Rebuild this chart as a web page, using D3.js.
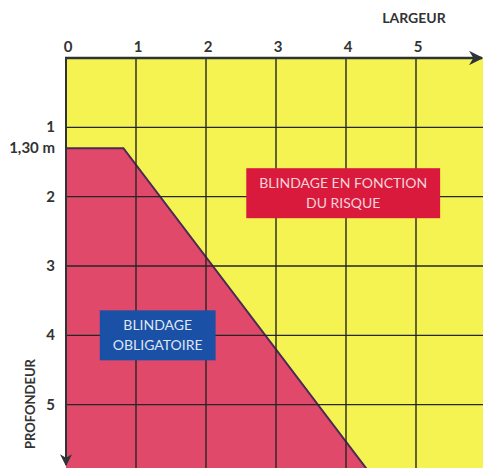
<!DOCTYPE html>
<html>
<head>
<meta charset="utf-8">
<script src="https://cdn.jsdelivr.net/npm/d3@7"></script>
<style>
  body { margin: 0; background: #fff; }
  svg { display: block; font-family: Lato, "Open Sans", sans-serif; }
</style>
</head>
<body>
<div id="chart"></div>
<script>
// largeur (m) along the top, profondeur (m) going down
var largeurTicks = [0, 1, 2, 3, 4, 5];
var profondeurTicks = [1, 2, 3, 4, 5];
var profondeurLabels = ["1", "2", "3", "4", "5"];
var seuilProfondeur = 1.30;
var seuilLabel = "1,30 m";

// limit of the mandatory zone: [largeur, profondeur]
var limiteBlindage = [[0, 1.30], [0.82, 1.30], [4.35, 6.0]];

var zoneLabels = [
    { lines: ["BLINDAGE EN FONCTION", "DU RISQUE"], x: 3.96, y: 1.95, fill: "#d91a3c", color: "#f6d3d8" },
    { lines: ["BLINDAGE", "OBLIGATOIRE"], x: 1.31, y: 4.0, fill: "#1a50a6", color: "#dfe6f5" }
];

var width = 483, height = 468;

var svg = d3.select("#chart")
    .append("svg")
    .attr("width", width)
    .attr("height", height);

var x = d3.scaleLinear().domain([0, 6]).range([66, 486]);
var y = d3.scaleLinear().domain([0, 6]).range([58, 474]);

var line = d3.line()
    .x(function (d) { return x(d[0]); })
    .y(function (d) { return y(d[1]); });

// yellow background (whole plot)
svg.append("rect")
    .attr("x", x(0))
    .attr("y", y(0))
    .attr("width", width - x(0))
    .attr("height", height - y(0))
    .attr("fill", "#f4f352");

// red zone
svg.append("path")
    .attr("d", line(limiteBlindage.concat([[0, 6]])) + "Z")
    .attr("fill", "#e0496a");

svg.append("path")
    .attr("d", line(limiteBlindage))
    .attr("fill", "none")
    .attr("stroke", "#4b2a55")
    .attr("stroke-width", 2);

// grid
svg.append("g")
    .selectAll("line")
    .data(largeurTicks.filter(function (d) { return d > 0; }))
    .enter()
    .append("line")
    .attr("x1", function (d) { return x(d); })
    .attr("x2", function (d) { return x(d); })
    .attr("y1", y(0))
    .attr("y2", height)
    .attr("stroke", "#262626")
    .attr("stroke-width", 1.4);

svg.append("g")
    .selectAll("line")
    .data(profondeurTicks)
    .enter()
    .append("line")
    .attr("x1", x(0))
    .attr("x2", width)
    .attr("y1", function (d) { return y(d); })
    .attr("y2", function (d) { return y(d); })
    .attr("stroke", "#262626")
    .attr("stroke-width", 1.4);

// axes with arrows
svg.append("defs")
    .append("marker")
    .attr("id", "arrow")
    .attr("viewBox", "0 0 10 10")
    .attr("refX", 9)
    .attr("refY", 5)
    .attr("markerWidth", 6)
    .attr("markerHeight", 6)
    .attr("markerUnits", "strokeWidth")
    .attr("orient", "auto")
    .append("path")
    .attr("d", "M0,0 L10,5 L0,10 L3,5 Z")
    .attr("fill", "#2e3436");

svg.append("line")
    .attr("x1", x(0) - 1)
    .attr("x2", width - 1)
    .attr("y1", y(0))
    .attr("y2", y(0))
    .attr("stroke", "#2e3436")
    .attr("stroke-width", 2.4)
    .attr("marker-end", "url(#arrow)");

svg.append("line")
    .attr("x1", x(0))
    .attr("x2", x(0))
    .attr("y1", y(0))
    .attr("y2", height - 3)
    .attr("stroke", "#2e3436")
    .attr("stroke-width", 2)
    .attr("marker-end", "url(#arrow)");

// tick labels
svg.append("g")
    .selectAll("text")
    .data(largeurTicks)
    .enter()
    .append("text")
    .attr("x", function (d) { return x(d) + 2; })
    .attr("y", y(0) - 6)
    .attr("text-anchor", "middle")
    .attr("font-size", 15)
    .attr("font-weight", "bold")
    .attr("fill", "#333")
    .text(function (d) { return d; });

svg.append("g")
    .selectAll("text")
    .data(profondeurTicks)
    .enter()
    .append("text")
    .attr("x", x(0) - 11)
    .attr("y", function (d) { return y(d) + 5; })
    .attr("text-anchor", "end")
    .attr("font-size", 15)
    .attr("font-weight", "bold")
    .attr("fill", "#333")
    .text(function (d, i) { return profondeurLabels[i]; });

svg.append("text")
    .attr("x", x(0) - 11)
    .attr("y", y(seuilProfondeur) + 5)
    .attr("text-anchor", "end")
    .attr("font-size", 15)
    .attr("font-weight", "bold")
    .attr("fill", "#333")
    .text(seuilLabel);

// axis titles
svg.append("text")
    .attr("x", 414)
    .attr("y", 23)
    .attr("text-anchor", "middle")
    .attr("font-size", 14)
    .attr("font-weight", "bold")
    .attr("fill", "#333")
    .text("LARGEUR");

svg.append("text")
    .attr("transform", "translate(35,404) rotate(-90)")
    .attr("text-anchor", "middle")
    .attr("font-size", 13)
    .attr("font-weight", "bold")
    .attr("fill", "#333")
    .text("PROFONDEUR");

// zone labels
var boxes = svg.append("g")
    .selectAll("g")
    .data(zoneLabels)
    .enter()
    .append("g")
    .attr("transform", function (d) { return "translate(" + x(d.x) + "," + y(d.y) + ")"; });

boxes.append("rect")
    .attr("fill", function (d) { return d.fill; });

boxes.each(function (d) {
    var g = d3.select(this);
    g.selectAll("text")
        .data(d.lines)
        .enter()
        .append("text")
        .attr("x", 0)
        .attr("y", function (t, i) { return (i - (d.lines.length - 1) / 2) * 20 + 5; })
        .attr("text-anchor", "middle")
        .attr("font-size", 14)
        .attr("fill", d.color)
        .text(function (t) { return t; });
    var bb = this.getBBox();
    g.select("rect")
        .attr("x", bb.x - 13)
        .attr("y", -25)
        .attr("width", bb.width + 26)
        .attr("height", 50);
});
</script>
</body>
</html>
